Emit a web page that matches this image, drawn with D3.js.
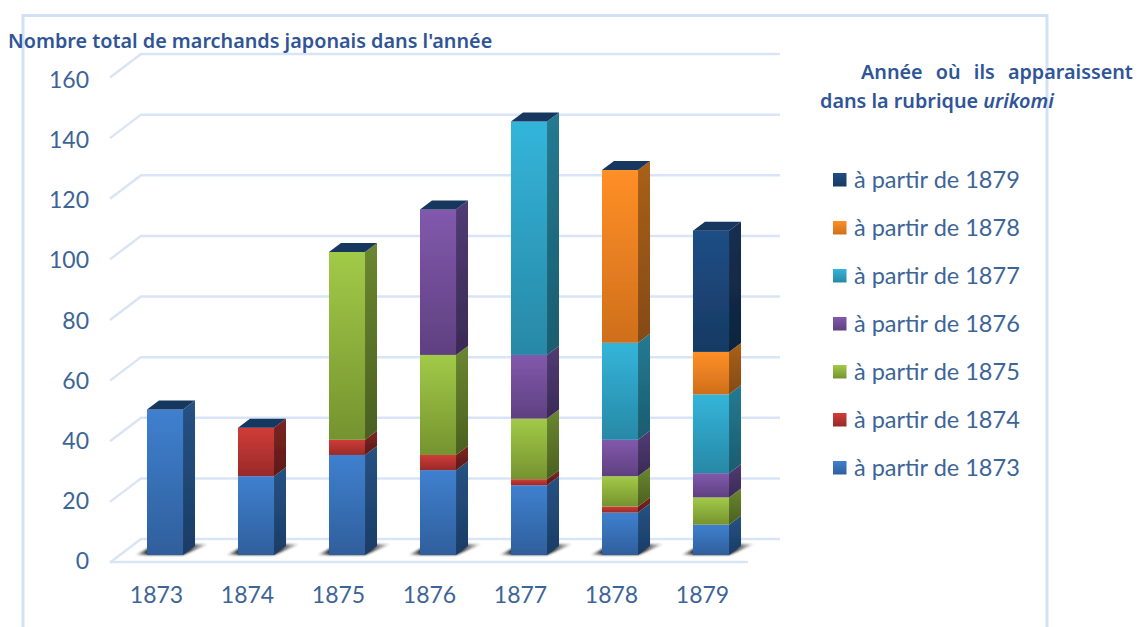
<!DOCTYPE html>
<html lang="fr">
<head>
<meta charset="UTF-8">
<title>Marchands japonais 1873-1879</title>
<script src="https://d3js.org/d3.v7.min.js"></script>
<style>
    html, body { margin: 0; padding: 0; background: #fff; }
    svg { display: block; }
    .axis text { font-family: Lato, "Open Sans", sans-serif; font-size: 23px; fill: #3d6496; }
    .axis line, .axis .domain { display: none; }
    .legend-label { font-family: Lato, "Open Sans", sans-serif; font-size: 23.5px; fill: #3d6496; }
    .note { font-family: "Noto Sans", sans-serif; font-size: 19.8px; font-weight: 600; fill: #2f5597; }
</style>
</head>
<body>
<div id="chart"></div>
<script>
    const years = ["1873", "1874", "1875", "1876", "1877", "1878", "1879"];
    const yTicks = [0, 20, 40, 60, 80, 100, 120, 140, 160];

    const from1873 = [48, 26, 33, 28, 23, 14, 10];
    const from1874 = [0, 16, 5, 5, 2, 2, 0];
    const from1875 = [0, 0, 62, 33, 20, 10, 9];
    const from1876 = [0, 0, 0, 48, 21, 12, 8];
    const from1877 = [0, 0, 0, 0, 77, 32, 26];
    const from1878 = [0, 0, 0, 0, 0, 57, 14];
    const from1879 = [0, 0, 0, 0, 0, 0, 40];

    const seriesNames = ["à partir de 1873", "à partir de 1874", "à partir de 1875", "à partir de 1876",
        "à partir de 1877", "à partir de 1878", "à partir de 1879"];
    const seriesValues = [from1873, from1874, from1875, from1876, from1877, from1878, from1879];

    // front top, front bottom, side top, side bottom
    const palette = [
        ["#3f80cf", "#2f5f9c", "#265283", "#1a3c66"],
        ["#d03c38", "#982a28", "#7e2522", "#5c1a18"],
        ["#a2ca48", "#75932f", "#6b8731", "#4a5f1f"],
        ["#8159ad", "#5f4080", "#513b74", "#392a55"],
        ["#33b5da", "#2888a6", "#257a92", "#1a5c6f"],
        ["#ff8f26", "#cf6f1c", "#a9601a", "#854a12"],
        ["#1f4e85", "#173a63", "#152f50", "#0f243f"]
    ];

    const width = 1139, height = 627;
    const depthX = 12, depthY = 9;

    const svg = d3.select("#chart").append("svg")
        .attr("width", width)
        .attr("height", height);

    const defs = svg.append("defs");
    function vGrad(id, top, bottom) {
        const g = defs.append("linearGradient").attr("id", id)
            .attr("x1", 0).attr("y1", 0).attr("x2", 0).attr("y2", 1);
        g.append("stop").attr("offset", "0%").attr("stop-color", top);
        g.append("stop").attr("offset", "100%").attr("stop-color", bottom);
    }
    palette.forEach((c, i) => {
        vGrad("front" + i, c[0], c[1]);
        vGrad("side" + i, c[2], c[3]);
    });
    const sg = defs.append("linearGradient").attr("id", "shadow");
    sg.append("stop").attr("offset", "0%").attr("stop-color", "#222").attr("stop-opacity", 0);
    sg.append("stop").attr("offset", "18%").attr("stop-color", "#222").attr("stop-opacity", 1);
    sg.append("stop").attr("offset", "70%").attr("stop-color", "#222").attr("stop-opacity", 0.95);
    sg.append("stop").attr("offset", "100%").attr("stop-color", "#222").attr("stop-opacity", 0);
    defs.append("filter").attr("id", "soft").append("feGaussianBlur").attr("stdDeviation", 0.5);
    defs.append("filter").attr("id", "softer").append("feGaussianBlur").attr("stdDeviation", 0.8);

    const x = d3.scaleBand().domain(years).range([119.5, 756.5]).paddingInner(0.604).paddingOuter(0.302);
    const y = d3.scaleLinear().domain([0, 160]).range([555, 70]);
    const yLabel = d3.scaleLinear().domain([0, 160]).range([561.5, 80]);

    // outer frame, open at the bottom
    svg.append("path")
        .attr("d", d3.line()([[23, height], [23, 15.5], [1047, 15.5], [1047, height]]))
        .attr("fill", "none").attr("stroke", "#d2e1f3").attr("stroke-width", 3);

    // grid with the receding left wall
    const grid = svg.append("g").attr("filter", "url(#soft)");
    grid.selectAll("path").data(yTicks).enter().append("path")
        .attr("d", d => {
            const gy = y(d) - 16;
            return d3.line()([[110, gy + 23.5], [141, gy], [780, gy]]);
        })
        .attr("fill", "none").attr("stroke", "#d9e5f6").attr("stroke-width", 2.5);
    grid.append("path")
        .attr("d", d3.line()([[110, y(0) + 7], [748, y(0) + 7]]))
        .attr("fill", "none").attr("stroke", "#d9e5f6").attr("stroke-width", 2.5);

    // floor shadows
    const bw = x.bandwidth();
    svg.append("g").selectAll("path").data(years).enter().append("path")
        .attr("d", d => d3.line()([
            [x(d) - 12, y(0)], [x(d) + bw, y(0)], [x(d) + bw + 26, y(0) - 11], [x(d) + 10, y(0) - 11]
        ]))
        .attr("fill", "url(#shadow)").attr("filter", "url(#softer)");

    // stacked boxes
    const rows = years.map((yr, i) => {
        const r = { year: yr };
        seriesNames.forEach((s, j) => { r[s] = seriesValues[j][i]; });
        return r;
    });
    const stacked = d3.stack().keys(seriesNames)(rows);

    const bars = svg.append("g").attr("filter", "url(#soft)");
    stacked.forEach((layer, i) => {
        const g = bars.append("g");
        const segs = layer.filter(d => d[1] > d[0]);
        g.selectAll(".side").data(segs).enter().append("path")
            .attr("d", d => {
                const x1 = x(d.data.year) + bw;
                return d3.line()([[x1, y(d[0])], [x1 + depthX, y(d[0]) - depthY],
                    [x1 + depthX, y(d[1]) - depthY], [x1, y(d[1])]]) + "Z";
            })
            .attr("fill", `url(#side${i})`);
        g.selectAll(".front").data(segs).enter().append("rect")
            .attr("x", d => x(d.data.year))
            .attr("y", d => y(d[1]))
            .attr("width", bw)
            .attr("height", d => y(d[0]) - y(d[1]))
            .attr("fill", `url(#front${i})`);
    });

    // caps on top of each column
    bars.append("g").selectAll("path").data(years).enter().append("path")
        .attr("d", (d, i) => {
            const top = y(d3.sum(seriesValues, s => s[i]));
            const x0 = x(d);
            return d3.line()([[x0, top], [x0 + bw, top], [x0 + bw + depthX, top - depthY], [x0 + depthX, top - depthY]]) + "Z";
        })
        .attr("fill", "#17375e");

    // axes
    svg.append("g").attr("class", "axis")
        .attr("transform", "translate(95,0)")
        .call(d3.axisLeft(yLabel).tickValues(yTicks).tickFormat(d3.format("d")).tickSize(0).tickPadding(6));
    svg.append("g").attr("class", "axis")
        .attr("transform", "translate(-8.5,587)")
        .call(d3.axisBottom(x).tickSize(0).tickPadding(0));

    // legend, newest first
    const legendY = d3.scalePoint().domain(seriesNames.slice().reverse()).range([180, 468]);
    const legend = svg.append("g").selectAll("g").data(seriesNames).enter().append("g")
        .attr("transform", d => `translate(833,${legendY(d)})`);
    legend.append("rect")
        .attr("x", 0).attr("y", -7).attr("width", 13.5).attr("height", 13.5)
        .attr("fill", (d, i) => `url(#front${i})`);
    legend.append("text").attr("class", "legend-label")
        .attr("x", 21).attr("y", 8)
        .text(d => d);

    // notes
    svg.append("text").attr("class", "note")
        .attr("x", 8).attr("y", 48)
        .text("Nombre total de marchands japonais dans l'année");
    svg.append("text").attr("class", "note")
        .attr("x", 861).attr("y", 79).attr("word-spacing", "8px")
        .text("Année où ils apparaissent");
    const line2 = svg.append("text").attr("class", "note").attr("x", 820).attr("y", 108);
    line2.append("tspan").text("dans la rubrique ");
    line2.append("tspan").attr("font-style", "italic").text("urikomi");
</script>
</body>
</html>
